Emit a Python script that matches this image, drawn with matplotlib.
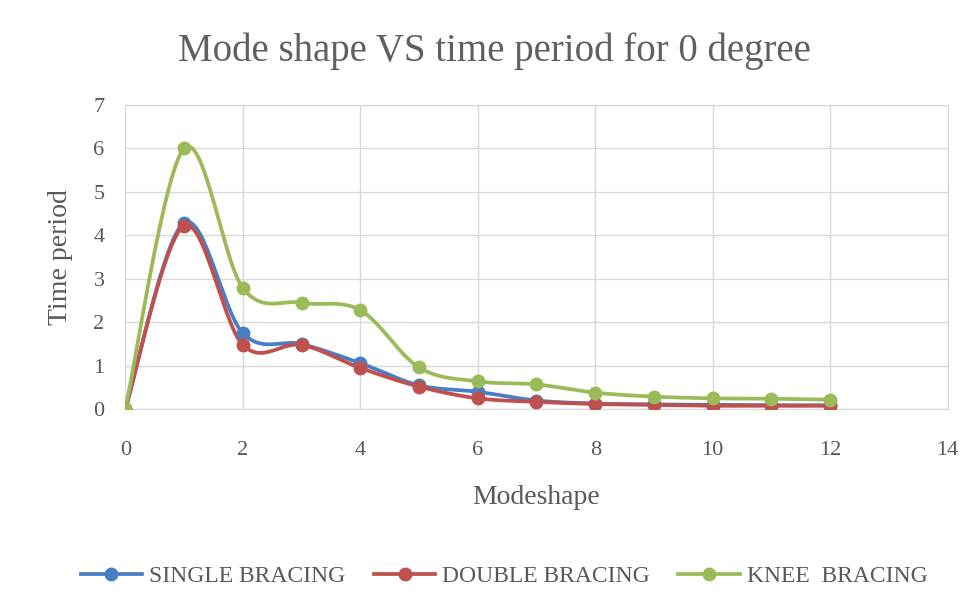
import numpy as np
import matplotlib
matplotlib.use("Agg")
import matplotlib.pyplot as plt
from matplotlib.lines import Line2D

# data
mode = [0, 1, 2, 3, 4, 5, 6, 7, 8, 9, 10, 11, 12]
single = [0, 4.29, 1.75, 1.50, 1.06, 0.55, 0.40, 0.20, 0.13, 0.11, 0.10, 0.09, 0.09]
double = [0, 4.22, 1.48, 1.48, 0.95, 0.52, 0.25, 0.17, 0.12, 0.10, 0.08, 0.08, 0.08]
knee = [0, 6.0, 2.79, 2.45, 2.28, 0.96, 0.64, 0.57, 0.38, 0.29, 0.25, 0.24, 0.22]

names = ["SINGLE BRACING", "DOUBLE BRACING", "KNEE  BRACING"]
colors = ["#4A7EC4", "#C0504D", "#9BBB59"]


def smooth(x, y, n=30):
    # excel-like smoothed line (catmull-rom through the points)
    x = np.asarray(x, float)
    y = np.asarray(y, float)
    px = np.concatenate([[x[0]], x, [x[-1]]])
    py = np.concatenate([[y[0]], y, [y[-1]]])
    xs, ys = [], []
    t = np.linspace(0, 1, n)
    for i in range(1, len(px) - 2):
        p0 = np.array([px[i], py[i]])
        p3 = np.array([px[i + 1], py[i + 1]])
        p1 = p0 + (np.array([px[i + 1], py[i + 1]]) - np.array([px[i - 1], py[i - 1]])) / 6
        p2 = p3 - (np.array([px[i + 2], py[i + 2]]) - np.array([px[i], py[i]])) / 6
        b = ((1 - t) ** 3)[:, None] * p0 + (3 * (1 - t) ** 2 * t)[:, None] * p1 \
            + (3 * (1 - t) * t ** 2)[:, None] * p2 + (t ** 3)[:, None] * p3
        xs.append(b[:, 0])
        ys.append(b[:, 1])
    return np.concatenate(xs), np.concatenate(ys)


plt.rcParams["font.family"] = ["Liberation Serif", "DejaVu Serif"]

fig = plt.figure(figsize=(9.79, 6.0), dpi=100)
ax = fig.add_axes([0.128, 0.318, 0.840, 0.507])

for series, c in zip([single, double, knee], colors):
    sx, sy = smooth(mode, series)
    ax.plot(sx, sy, color=c, lw=2.7, solid_capstyle="round", zorder=3)
    ax.plot(mode, series, "o", color=c, ms=9, zorder=4)

ax.set_xlim(0, 14)
ax.set_ylim(0, 7)
ax.set_xticks(range(0, 15, 2))
ax.set_yticks(range(0, 8))
ax.grid(True, color="#D9D9D9", lw=1)
ax.set_axisbelow(True)
for s in ax.spines.values():
    s.set_color("#D9D9D9")
ax.tick_params(length=0, labelsize=16, labelcolor="#595959")
ax.tick_params(axis="x", pad=23)
ax.tick_params(axis="y", pad=15)

ax.set_xlabel("Modeshape", fontsize=20, color="#595959", labelpad=18)
ax.set_ylabel("Time period", fontsize=20, color="#595959", labelpad=15)
fig.text(0.505, 0.915, "Mode shape VS time period for 0 degree", ha="center",
         va="center", fontsize=28, color="#606060")

handles = [Line2D([0], [0], color=c, lw=2.7, marker="o", ms=9) for c in colors]
fig.legend(handles, names, loc="center", bbox_to_anchor=(0.515, 0.040), ncol=3,
           frameon=False, fontsize=17, handlelength=2.6, handletextpad=0.3,
           columnspacing=1.2, labelcolor="#595959")

fig.savefig("out.png", dpi=100)
